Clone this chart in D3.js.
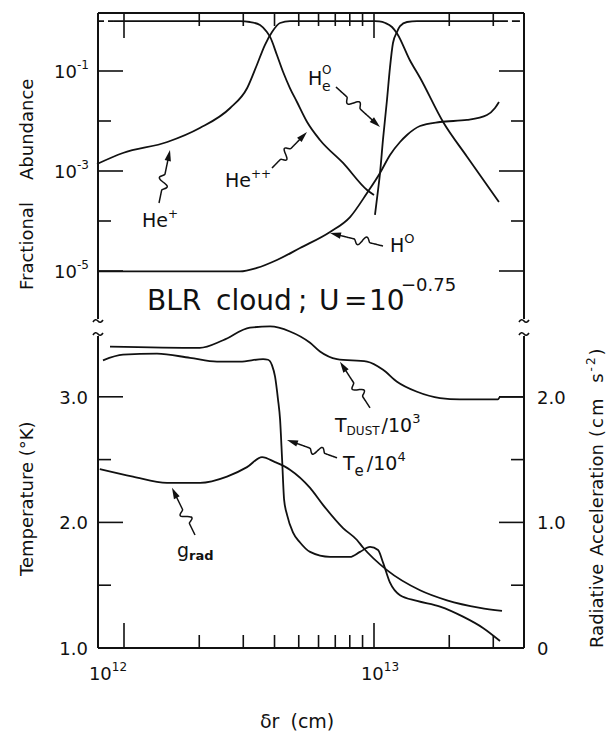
<!DOCTYPE html>
<html>
<head>
<meta charset="utf-8">
<script src="https://d3js.org/d3.v7.min.js"></script>
<style>
  body { margin: 0; background: #fff; }
  text { font-family: "DejaVu Sans", sans-serif; fill: #111; }
</style>
</head>
<body>
<div id="chart"></div>
<script>
"use strict";

// ---- data (δr in units of 1e12 cm) ----

// upper panel: fractional abundances
const hePlusDr = [0.78, 0.99, 1.49, 2.01, 2.66, 3.11, 3.40, 3.66, 3.91, 4.21, 4.61, 10.1, 10.5, 11.1, 11.8, 12.4, 13.9, 15.3, 18.9, 23.6, 31.6];
const hePlusAb = [1.38e-3, 2.29e-3, 3.8e-3, 7.24e-3, 1.82e-2, 4.57e-2, 0.132, 0.331, 0.603, 0.912, 0.99, 0.99, 0.98, 0.912, 0.759, 0.55, 0.166, 0.0724, 9.55e-3, 1.91e-3, 2.4e-4];

const hePPDr = [0.904, 2.91, 3.19, 3.50, 3.73, 3.84, 4.09, 4.33, 4.61, 4.92, 5.40, 6.08, 7.52, 9.38, 10.0];
const hePPAb = [0.99, 0.99, 0.955, 0.83, 0.60, 0.48, 0.209, 0.0955, 0.0457, 0.024, 9.55e-3, 4.17e-3, 1.45e-3, 4.17e-4, 3.31e-4];

const he0Dr = [10.09, 10.38, 10.57, 10.86, 11.27, 11.59, 11.91, 12.36, 12.71, 13.55, 14.86, 31.9];
const he0Ab = [1.32e-4, 4.17e-4, 9.1e-4, 4.2e-3, 2.63e-2, 0.12, 0.363, 0.603, 0.79, 0.955, 0.99, 0.99];

const h0Dr = [0.787, 2.91, 3.40, 4.09, 5.06, 6.67, 8.02, 9.38, 10.57, 11.59, 12.71, 13.55, 15.28, 18.37, 23.55, 28.31, 30.48, 31.62];
const h0Ab = [9.8e-6, 9.8e-6, 1.15e-5, 1.66e-5, 2.88e-5, 6.03e-5, 1.2e-4, 3.63e-4, 9.12e-4, 2.09e-3, 3.8e-3, 5.25e-3, 7.94e-3, 9.55e-3, 1.05e-2, 1.32e-2, 1.82e-2, 2.4e-2];

// lower panel: temperatures (left axis) and g_rad (right axis)
const tDustDr = [0.879, 2.01, 2.49, 3.19, 3.84, 4.61, 5.55, 6.08, 7.11, 9.38, 10.87, 12.36, 14.86, 18.37, 22.08, 31.33, 31.92, 39.8];
const tDust   = [3.40, 3.39, 3.45, 3.55, 3.56, 3.52, 3.43, 3.36, 3.30, 3.28, 3.215, 3.12, 3.04, 2.99, 2.98, 2.98, 3.0, 3.0];

const tElDr = [0.824, 0.991, 1.355, 1.837, 2.355, 2.91, 3.60, 3.77, 3.91, 4.02, 4.13, 4.21, 4.29, 4.37, 4.49, 4.74, 5.06, 5.55, 6.67, 8.02, 8.79, 9.64, 10.38, 10.87, 11.59, 12.71, 14.86, 18.37, 22.70, 27.29, 31.92];
const tEl   = [3.29, 3.335, 3.343, 3.31, 3.28, 3.28, 3.30, 3.295, 3.25, 3.16, 2.98, 2.82, 2.50, 2.18, 2.06, 1.92, 1.84, 1.765, 1.725, 1.725, 1.765, 1.805, 1.78, 1.68, 1.52, 1.42, 1.375, 1.33, 1.25, 1.16, 1.056];

const gRadDr = [0.80, 1.086, 1.486, 2.014, 2.582, 3.105, 3.565, 4.02, 4.61, 5.55, 6.25, 7.52, 8.55, 9.04, 11.27, 15.28, 19.59, 26.55, 32.51];
const gRad   = [1.425, 1.365, 1.315, 1.315, 1.365, 1.44, 1.52, 1.48, 1.42, 1.275, 1.14, 0.955, 0.86, 0.80, 0.62, 0.46, 0.38, 0.32, 0.295];

// ticks
const xMajor = [1, 10];
const xMinor = [2, 3, 4, 5, 6, 7, 8, 9, 20, 30];
const abMajor = [1e-1, 1e-3, 1e-5];
const abMinor = [1e-2, 1e-4];
const abLabels = ["-1", "-3", "-5"];
const tMajor = [3.0, 2.0, 1.0];
const tMinor = [2.5, 1.5];
const tLabels = ["3.0", "2.0", "1.0"];
const gMajor = [2.0, 1.0, 0];
const gMinor = [1.5, 0.5];
const gLabels = ["2.0", "1.0", "0"];

// ---- layout ----
const W = 611, H = 732;
const L = 98, R = 524, T0 = 13, B0 = 648;
const upperBottom = 321, lowerTop = 334;

const svg = d3.select("#chart").append("svg").attr("width", W).attr("height", H);

const x = d3.scaleLog().domain([Math.pow(10, -0.104), Math.pow(10, 1.6)]).range([L, R]);
const yAb = d3.scaleLog().domain([1e-6, Math.pow(10, 0.16)]).range([upperBottom, T0]);
const yT = d3.scaleLinear().domain([1, 3.5]).range([B0, lowerTop]);
const yG = d3.scaleLinear().domain([0, 2.5]).range([B0, lowerTop]);

const ink = "#111";

// frame: top, bottom, and broken side axes
const frame = svg.append("g").attr("stroke", ink).attr("stroke-width", 2).attr("fill", "none");
frame.append("line").attr("x1", L).attr("x2", R).attr("y1", T0).attr("y2", T0);
frame.append("line").attr("x1", L).attr("x2", R).attr("y1", B0).attr("y2", B0);
[L, R].forEach(function(ax) {
  frame.append("line").attr("x1", ax).attr("x2", ax).attr("y1", T0).attr("y2", upperBottom - 2);
  frame.append("line").attr("x1", ax).attr("x2", ax).attr("y1", lowerTop + 2).attr("y2", B0);
  // break tildes
  [upperBottom, lowerTop].forEach(function(yy) {
    frame.append("path")
      .attr("stroke-width", 1.6)
      .attr("d", "M" + (ax - 5) + "," + (yy + 1) + " q2.5,-4 5,-1 t5,-1");
  });
});

// x ticks, bottom (pointing up) and top (pointing down)
const ticks = svg.append("g").attr("stroke", ink).attr("stroke-width", 1.6);
xMajor.forEach(function(v) {
  ticks.append("line").attr("x1", x(v)).attr("x2", x(v)).attr("y1", B0).attr("y2", B0 - 25);
  ticks.append("line").attr("x1", x(v)).attr("x2", x(v)).attr("y1", T0).attr("y2", T0 + 25);
});
xMinor.forEach(function(v) {
  ticks.append("line").attr("x1", x(v)).attr("x2", x(v)).attr("y1", B0).attr("y2", B0 - 13);
  ticks.append("line").attr("x1", x(v)).attr("x2", x(v)).attr("y1", T0).attr("y2", T0 + 13);
});

// y ticks on both sides
function yTick(yy, len) {
  ticks.append("line").attr("x1", L).attr("x2", L + len).attr("y1", yy).attr("y2", yy);
  ticks.append("line").attr("x1", R).attr("x2", R - len).attr("y1", yy).attr("y2", yy);
}
abMajor.forEach(function(v) { yTick(yAb(v), 25); });
abMinor.forEach(function(v) { yTick(yAb(v), 13); });
tMajor.forEach(function(v) { if (v > 1) yTick(yT(v), 25); });
tMinor.forEach(function(v) { yTick(yT(v), 13); });

// tick labels
const labels = svg.append("g").attr("font-size", 18);
abMajor.forEach(function(v, i) {
  const t = labels.append("text").attr("x", 54).attr("y", yAb(v) + 7);
  t.append("tspan").text("10");
  t.append("tspan").attr("font-size", 12).attr("dy", -9).text(abLabels[i]);
});
tMajor.forEach(function(v, i) {
  labels.append("text").attr("x", 88).attr("y", yT(v) + 7).attr("text-anchor", "end").text(tLabels[i]);
});
gMajor.forEach(function(v, i) {
  labels.append("text").attr("x", 537).attr("y", yG(v) + 7).text(gLabels[i]);
});
[[1, -16], [10, 6]].forEach(function(d, i) {
  const t = labels.append("text").attr("x", x(d[0]) + d[1]).attr("y", 680).attr("text-anchor", "middle");
  t.append("tspan").text("10");
  t.append("tspan").attr("font-size", 12).attr("dy", -9).text(i === 0 ? "12" : "13");
});

// axis titles
labels.append("text").attr("transform", "translate(33,290) rotate(-90)").text("Fractional");
labels.append("text").attr("transform", "translate(33,180) rotate(-90)").text("Abundance");
labels.append("text").attr("transform", "translate(33,576) rotate(-90)").text("Temperature (°K)");
labels.append("text").attr("transform", "translate(603,648) rotate(-90)").text("Radiative");
labels.append("text").attr("transform", "translate(603,556) rotate(-90)").text("Acceleration");
const ra = labels.append("text").attr("transform", "translate(603,437) rotate(-90)")
  .attr("letter-spacing", 2).attr("word-spacing", 6);
ra.append("tspan").text("(cm s");
ra.append("tspan").attr("font-size", 12).attr("dy", -8).text("-2");
ra.append("tspan").attr("dy", 8).text(")");
labels.append("text").attr("x", 260).attr("y", 728).attr("font-size", 19).attr("word-spacing", 5).text("δr (cm)");

// title
const title = svg.append("text").attr("y", 310).attr("font-size", 28);
title.append("tspan").attr("x", 147).text("BLR");
title.append("tspan").attr("x", 216).text("cloud");
title.append("tspan").attr("x", 298).text(";");
title.append("tspan").attr("x", 319).text("U");
title.append("tspan").attr("x", 344).text("=");
title.append("tspan").attr("x", 369).text("10");
title.append("tspan").attr("font-size", 18).attr("dy", -19).attr("x", 401).text("−0.75");

// ---- curves ----
const curves = svg.append("g").attr("fill", "none").attr("stroke", ink).attr("stroke-width", 1.8);

function drawSeries(drs, vals, yScale) {
  const pts = drs.map(function(d, i) { return [x(d), yScale(vals[i])]; });
  curves.append("path").attr("d", d3.line().curve(d3.curveMonotoneX)(pts));
}
drawSeries(hePlusDr, hePlusAb, yAb);
drawSeries(hePPDr, hePPAb, yAb);
drawSeries(he0Dr, he0Ab, yAb);
drawSeries(h0Dr, h0Ab, yAb);
drawSeries(tDustDr, tDust, yT);
drawSeries(tElDr, tEl, yT);
drawSeries(gRadDr, gRad, yG);

// dashed ends of the unity line at the top
curves.append("path").attr("stroke-dasharray", "6,4")
  .attr("d", d3.line()([[x(x.domain()[0]), yAb(hePPAb[0])], [x(hePPDr[0]), yAb(hePPAb[0])]]));
curves.append("path").attr("stroke-dasharray", "8,4")
  .attr("d", d3.line()([[x(he0Dr[he0Dr.length - 1]), yAb(0.99)], [x(x.domain()[1]), yAb(0.99)]]));

// ---- annotations: squiggly arrows, positions given in (log10 δr[cm], value) ----
const annUpper = [
  { tail: [12.14, -3.64], tip: [12.184, -2.58] },
  { tail: [12.592, -2.94], tip: [12.732, -2.22] },
  { tail: [12.848, -1.32], tip: [13.024, -2.12] },
  { tail: [13.036, -4.50], tip: [12.824, -4.24] }
];
const annLower = [
  { tail: [12.984, 2.912], tip: [12.864, 3.279] },
  { tail: [12.852, 2.514], tip: [12.652, 2.657] },
  { tail: [12.284, 1.90], tip: [12.192, 2.275] }
];

function px(lx) { return x(Math.pow(10, lx - 12)); }

function squiggleArrow(p0, p1) {
  const dx = p1[0] - p0[0], dy = p1[1] - p0[1];
  const len = Math.hypot(dx, dy);
  const ux = dx / len, uy = dy / len, nx = -uy, ny = ux;
  const pts = [];
  for (let i = 0; i <= 40; i++) {
    const t = i / 40;
    let off = 0;
    if (t > 0.3 && t < 0.62) off = 5 * Math.sin((t - 0.3) / 0.32 * 2 * Math.PI);
    const a = t * (len - 8);
    pts.push([p0[0] + ux * a + nx * off, p0[1] + uy * a + ny * off]);
  }
  curves.append("path").attr("stroke-width", 1.5).attr("d", d3.line().curve(d3.curveBasis)(pts));
  const bx = p1[0] - ux * 11, by = p1[1] - uy * 11;
  svg.append("path").attr("fill", ink)
    .attr("d", "M" + p1[0] + "," + p1[1] + "L" + (bx + nx * 3.2) + "," + (by + ny * 3.2) +
               "L" + (bx - nx * 3.2) + "," + (by - ny * 3.2) + "Z");
}
annUpper.forEach(function(a) {
  squiggleArrow([px(a.tail[0]), yAb(Math.pow(10, a.tail[1]))], [px(a.tip[0]), yAb(Math.pow(10, a.tip[1]))]);
});
annLower.forEach(function(a) {
  squiggleArrow([px(a.tail[0]), yT(a.tail[1])], [px(a.tip[0]), yT(a.tip[1])]);
});

// ---- species labels ----
const sl = svg.append("g").attr("font-size", 19);
function upperText(lx, ly) { return sl.append("text").attr("x", px(lx)).attr("y", yAb(Math.pow(10, ly))); }
function lowerText(lx, tv) { return sl.append("text").attr("x", px(lx)).attr("y", yT(tv)); }

let t = upperText(12.072, -4.12);
t.append("tspan").text("He");
t.append("tspan").attr("font-size", 12).attr("dy", -9).text("+");

t = upperText(12.404, -3.32);
t.append("tspan").text("He");
t.append("tspan").attr("font-size", 12).attr("dy", -9).text("++");

// He⁰ label drawn as H with a stacked "O" above and "e" below
t = upperText(12.736, -1.28);
t.append("tspan").text("H");
upperText(12.736, -1.28).attr("dx", 14).attr("dy", -11).attr("font-size", 12).text("O");
upperText(12.736, -1.28).attr("dx", 14).attr("dy", 6).attr("font-size", 14).text("e");

t = upperText(13.064, -4.62);
t.append("tspan").text("H");
t.append("tspan").attr("font-size", 13).attr("dy", -9).text("O");

t = lowerText(12.844, 2.721);
t.append("tspan").text("T");
t.append("tspan").attr("font-size", 12).attr("dy", 3).text("DUST");
t.append("tspan").attr("dy", -3).attr("dx", 2).text("/10");
t.append("tspan").attr("font-size", 13).attr("dy", -9).text("3");

t = lowerText(12.876, 2.418);
t.append("tspan").text("T");
t.append("tspan").attr("font-size", 15).attr("dy", 6).text("e");
t.append("tspan").attr("dy", -6).attr("dx", 3).text("/10");
t.append("tspan").attr("font-size", 13).attr("dy", -9).text("4");

t = lowerText(12.212, 1.725);
t.append("tspan").text("g");
t.append("tspan").attr("font-size", 13).attr("dy", 3).attr("font-weight", "bold").text("rad");
</script>
</body>
</html>
